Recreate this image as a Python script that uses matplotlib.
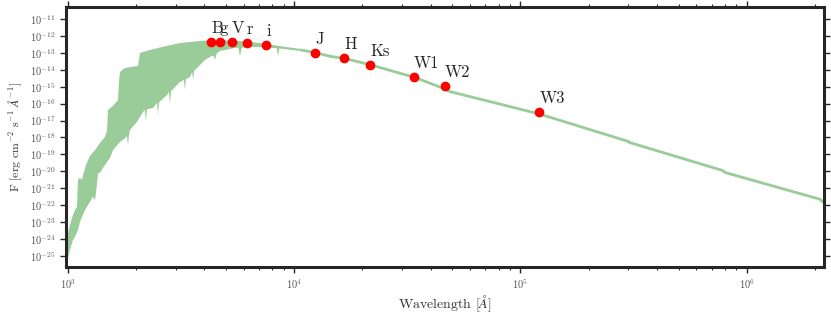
import matplotlib
matplotlib.use("Agg")
import matplotlib.pyplot as plt
import numpy as np
from matplotlib.ticker import LogLocator, NullFormatter

plt.rcParams.update({
    "font.family": "serif",
    "font.serif": ["cmr10"],
    "mathtext.fontset": "cm",
    "axes.formatter.use_mathtext": True,
})

# model spectrum, blue/optical part drawn as a band (upper and lower envelope)
band_upper_wave = [987, 1017, 1049, 1071, 1093, 1104, 1126, 1150, 1162, 1198, 1247, 1313,
                   1381, 1453, 1483, 1498, 1577, 1659, 1676, 1693, 1781, 2033, 2075, 2298,
                   2597, 3119, 3824, 4688, 5745, 7044, 8637, 10600]
band_upper_flux = [1.2e-24, 6.8e-24, 2.6e-23, 5.2e-23, 7.9e-23, 3.1e-21, 4.1e-21, 3.1e-21,
                   6.1e-21, 2.4e-20, 8.1e-20, 1.8e-19, 4.7e-19, 1.07e-18, 2.4e-18, 4.2e-17,
                   7.3e-17, 1.64e-16, 1.9e-15, 7.4e-15, 1.28e-14, 1.67e-14, 9.8e-14, 1.48e-13,
                   2.2e-13, 3.8e-13, 5.0e-13, 5.75e-13, 5.0e-13, 3.8e-13, 2.5e-13, 1.7e-13]

# lower envelope, with the deeper absorption dips
band_lower_wave = [987, 1017, 1049, 1071, 1093, 1104, 1126, 1150, 1186, 1247, 1286, 1313,
                   1339, 1353, 1381, 1424, 1529, 1577, 1693, 1800, 1818, 1837, 1855, 1875,
                   2013, 2140, 2183, 2205, 2227, 2369, 2469, 2494, 2519, 2733, 2789, 2817,
                   2845, 3119, 3247, 3280, 3313, 3454, 3530, 3565, 3600, 3824, 4023, 4234,
                   4380, 4455, 4530, 4688, 4932, 5461, 5650, 5745, 5850, 6364, 7044, 7800,
                   8350, 8463, 8580, 10600]
band_lower_flux = [4.4e-26, 2.3e-25, 8.8e-25, 1.33e-24, 2.6e-24, 3.4e-24, 1.02e-23, 2.0e-23,
                   5.2e-23, 1.55e-22, 3.1e-22, 2.0e-22, 1.57e-21, 8.0e-21, 8.0e-21, 1.58e-20,
                   6.2e-20, 1.8e-19, 5.4e-19, 1.0e-18, 1.2e-18, 3.2e-19, 1.5e-18, 2.8e-18,
                   8.2e-18, 3.2e-17, 4.2e-17, 8.2e-18, 4.6e-17, 5.5e-17, 1.1e-16, 2.1e-17,
                   1.2e-16, 3.2e-16, 4.9e-16, 9.5e-17, 5.3e-16, 1.9e-15, 2.5e-15, 6.4e-16,
                   2.8e-15, 3.75e-15, 7.4e-15, 2.5e-15, 8.5e-15, 1.9e-14, 3.8e-14, 5.7e-14,
                   7.0e-14, 3.8e-14, 9.0e-14, 1.29e-13, 1.48e-13, 1.94e-13, 2.0e-13, 6.5e-14,
                   2.0e-13, 2.2e-13, 2.2e-13, 1.94e-13, 1.9e-13, 6.5e-14, 1.8e-13, 1.3e-13]

# infrared tail of the model
tail_wave = [10600, 12300, 14400, 16600, 21600, 29300, 34000, 45400, 48800, 121000,
             298800, 304000, 786000, 800000, 2.11e6, 2.2e6]
tail_flux = [1.5e-13, 1.05e-13, 6.2e-14, 4.7e-14, 2.0e-14, 6.2e-15, 3.6e-15, 8.1e-16,
             5.1e-16, 2.45e-17, 5.9e-19, 5.0e-19, 1.1e-20, 8.6e-21, 2.24e-22, 1.35e-22]

# photometry
bands = ["B", "g", "V", "r", "i", "J", "H", "Ks", "W1", "W2", "W3"]
phot_wave = [4277, 4688, 5297, 6152, 7488, 12334, 16575, 21600, 33810, 46360, 121140]
phot_flux = [4.38e-13, 4.38e-13, 4.38e-13, 3.8e-13, 2.8e-13, 1.02e-13, 4.77e-14,
             1.92e-14, 3.75e-15, 1.06e-15, 3.08e-17]

sed_color = "#99cc99"
dark = "#262626"

fig = plt.figure(figsize=(8.31, 3.17), dpi=100)
ax = fig.add_axes([66 / 831, 1 - 266.7 / 317, (824 - 66) / 831, (266.7 - 7.3) / 317])

poly_x = np.concatenate([band_upper_wave, band_lower_wave[::-1]])
poly_y = np.concatenate([band_upper_flux, band_lower_flux[::-1]])
ax.fill(poly_x, poly_y, color=sed_color, lw=0)
ax.plot(tail_wave, tail_flux, color=sed_color, lw=2, solid_capstyle="butt")

ax.plot(phot_wave, phot_flux, "o", color="red", ms=6, mec="red", zorder=5)
for name, w, f in zip(bands, phot_wave, phot_flux):
    ax.annotate(name, (w, f), xytext=(0, 6.5), textcoords="offset points",
                ha="left", va="baseline", fontsize=12, color=dark)

ax.set_xscale("log")
ax.set_yscale("log")
ax.set_xlim(977, 2.2e6)
ax.set_ylim(2.3e-26, 4.9e-11)

ax.yaxis.set_major_locator(LogLocator(base=10, numticks=30))
ax.yaxis.set_minor_locator(LogLocator(base=10, subs=[], numticks=30))
ax.xaxis.set_minor_locator(LogLocator(base=10, subs=np.arange(2, 10), numticks=30))
ax.xaxis.set_minor_formatter(NullFormatter())

for s in ax.spines.values():
    s.set_linewidth(2.2)
    s.set_color(dark)

ax.tick_params(which="both", direction="out", top=True, right=True, color=dark,
               labelcolor="#555555", labelsize=7.5)
ax.tick_params(which="major", length=4, width=1)
ax.tick_params(which="minor", length=2.5, width=0.8)

ax.set_xlabel(r"Wavelength [$\AA$]", fontsize=10, color="#333333", labelpad=2)
ax.set_ylabel(r"F [erg cm$^{-2}$ s$^{-1}$ $\AA^{-1}$]", fontsize=8.5, color="#333333")

fig.savefig("out.png", dpi=100)
